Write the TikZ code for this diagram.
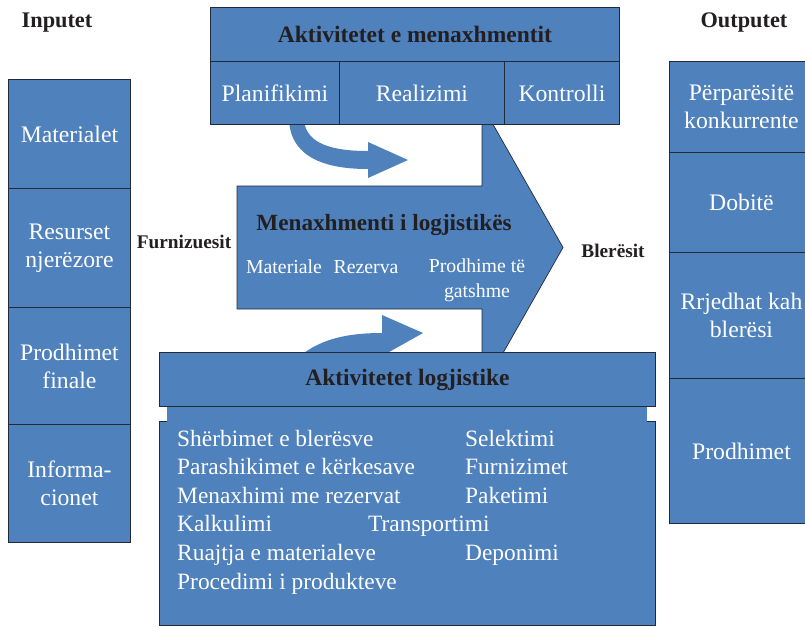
\documentclass[tikz,border=0pt]{standalone}
\usepackage{fontspec}
\setmainfont{LiberationSerif}[Extension=.ttf, UprightFont=*-Regular, BoldFont=*-Bold, ItalicFont=*-Italic, BoldItalicFont=*-BoldItalic]
\begin{document}
\definecolor{boxblue}{RGB}{79,129,189}
\definecolor{boxline}{RGB}{34,42,58}
\definecolor{inkdark}{RGB}{35,31,32}
\tikzset{
  cell/.style={draw=boxline, line width=0.9pt, fill=boxblue, text=white, anchor=north west,
    inner sep=0pt, align=center, font=\fontsize{23.7}{28}\selectfont},
  headcell/.style={cell, text=inkdark, font=\bfseries\fontsize{23.5}{28}\selectfont},
  sidelabel/.style={text=inkdark, inner sep=0pt, anchor=base, font=\bfseries\fontsize{22.3}{26}\selectfont},
  flowlabel/.style={text=inkdark, inner sep=0pt, anchor=base, font=\bfseries\fontsize{19.3}{23}\selectfont},
  arrowtext/.style={text=white, inner sep=0pt, anchor=base, align=center, font=\fontsize{19.8}{25}\selectfont},
  listitem/.style={text=white, inner sep=0pt, anchor=base west, font=\fontsize{23.4}{28}\selectfont},
  curvedarrow/.style={fill=boxblue, draw=none}
}
\begin{tikzpicture}[x=1pt, y=-1pt]
\useasboundingbox (0,0) rectangle (805,627);

% main block arrow: suppliers -> customers
\draw[fill=boxblue, draw=boxline, line width=0.7pt]
  (237,186) -- (482,186) -- (482,105) -- (563,247.5) -- (482,390) -- (482,309) -- (237,309) -- cycle;

% curved arrow from management activities down into the flow
\path[curvedarrow] (289,120) .. controls (291,160) and (330,169) .. (368,169)
  -- (368,178) -- (408,160) -- (368,142) -- (368,151)
  .. controls (335,151) and (306,145) .. (304,120) -- cycle;

% curved arrow from logistic activities up into the flow
\path[curvedarrow] (300,356) .. controls (322,338) and (350,333) .. (382,333)
  -- (382,315) -- (423,333) -- (382,356) -- cycle;

% management activities
\node[headcell, minimum width=409pt, minimum height=54pt] (mgmt) at (210,7) {Aktivitetet e menaxhmentit};
\node[cell, minimum width=129pt, minimum height=63pt] (plan) at (210,61) {Planifikimi};
\node[cell, minimum width=165pt, minimum height=63pt] (real) at (339,61) {Realizimi};
\node[cell, minimum width=115pt, minimum height=63pt] (ctrl) at (504,61) {Kontrolli};

% logistic activities
\node[cell, minimum width=496pt, minimum height=204pt] (logbody) at (159,421) {};
\fill[boxblue] (167,403) rectangle (647,423);
\node[headcell, minimum width=496pt, minimum height=54pt] (logtitle) at (159,352) {Aktivitetet logjistike};

\node[listitem] (l1) at (177,446) {Shërbimet e blerësve};
\node[listitem] (l2) at (177,474.6) {Parashikimet e kërkesave};
\node[listitem] (l3) at (177,503.2) {Menaxhimi me rezervat};
\node[listitem] (l4) at (177,531.8) {Kalkulimi};
\node[listitem] (l5) at (177,560.4) {Ruajtja e materialeve};
\node[listitem] (l6) at (177,589) {Procedimi i produkteve};
\node[listitem] (r1) at (465,446) {Selektimi};
\node[listitem] (r2) at (465,474.6) {Furnizimet};
\node[listitem] (r3) at (465,503.2) {Paketimi};
\node[listitem] (r4) at (368,531.8) {Transportimi};
\node[listitem] (r5) at (465,560.4) {Deponimi};

% inputs
\node[sidelabel] (intitle) at (57,27) {Inputet};
\node[cell, minimum width=122pt, minimum height=109pt] (in1) at (8,79) {Materialet};
\node[cell, minimum width=122pt, minimum height=119pt] (in2) at (8,188) {Resurset\\njerëzore};
\node[cell, minimum width=122pt, minimum height=117pt] (in3) at (8,307) {Prodhimet\\finale};
\node[cell, minimum width=122pt, minimum height=118pt] (in4) at (8,424) {Informa-\\cionet};

% outputs
\node[sidelabel] (outtitle) at (744,27) {Outputet};
\node[cell, minimum width=144pt, minimum height=91pt] (out1) at (669,61) {Përparësitë\\konkurrente};
\node[cell, minimum width=144pt, minimum height=100pt] (out2) at (669,152) {Dobitë};
\node[cell, minimum width=144pt, minimum height=126pt] (out3) at (669,252) {Rrjedhat kah\\blerësi};
\node[cell, minimum width=144pt, minimum height=145pt] (out4) at (669,378) {Prodhimet};

% flow labels
\node[flowlabel] (supp) at (184,248) {Furnizuesit};
\node[flowlabel] (cust) at (613,257) {Blerësit};

% logistics management
\node[text=inkdark, inner sep=0pt, anchor=base, font=\bfseries\fontsize{23.2}{28}\selectfont] (lm) at (384,230) {Menaxhmenti i logjistikës};
\node[arrowtext] (am) at (284,273) {Materiale};
\node[arrowtext] (ar) at (366,273) {Rezerva};
\node[arrowtext, anchor=north] (ap) at (477,258.5) {Prodhime të\\gatshme};
\end{tikzpicture}
\end{document}
